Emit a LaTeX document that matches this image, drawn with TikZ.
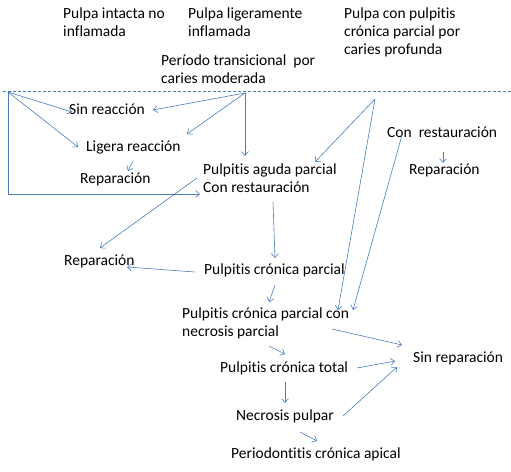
\documentclass[tikz,border=0pt]{standalone}
\usepackage{fontspec}
\setmainfont{Carlito}[Ligatures=NoCommon]
\usetikzlibrary{arrows.meta}
\definecolor{arr}{HTML}{4A7EBB}
\tikzset{
  lbl/.style={anchor=base west,inner sep=0pt,align=left,font=\fontsize{15.5}{18}\selectfont,text=black},
  con/.style={draw=arr,line width=0.6pt,-{Straight Barb[length=4pt,width=7pt,line width=0.6pt]}},
}
\begin{document}
\begin{tikzpicture}[x=1pt,y=-1pt]
\useasboundingbox (0,0) rectangle (511,471);
% labels (base = baseline of last line)
\node[lbl] (pin) at (63,36) {Pulpa intacta no\\inflamada};
\node[lbl] (plig) at (188,36) {Pulpa ligeramente\\inflamada};
\node[lbl] (ptr) at (161,83) {Período transicional\ \ por\\caries moderada};
\node[lbl] (pcp) at (344,54) {Pulpa con pulpitis\\crónica parcial por\\caries profunda};
\node[lbl] (sr) at (69,114) {Sin reacción};
\node[lbl] (lr) at (86,151) {Ligera reacción};
\node[lbl] (rep1) at (80,183) {Reparación};
\node[lbl] (pag) at (203,192) {Pulpitis aguda parcial\\Con restauración};
\node[lbl] (cr) at (387,137) {Con\ \ restauración};
\node[lbl] (rep2) at (409,174) {Reparación};
\node[lbl] (rep3) at (64,265) {Reparación};
\node[lbl] (pcpar) at (204,274) {Pulpitis crónica parcial};
\node[lbl] (pcpn) at (182,336) {Pulpitis crónica parcial con\\necrosis parcial};
\node[lbl] (srep) at (413,362) {Sin reparación};
\node[lbl] (pct) at (220,372) {Pulpitis crónica total};
\node[lbl] (np) at (236,420) {Necrosis pulpar};
\node[lbl] (pca) at (231,458) {Periodontitis crónica apical};
% dashed separator
\coordinate (dl) at (3,91.5);
\coordinate (dr) at (511,91.5);
\draw[arr,line width=0.8pt,dash pattern=on 3pt off 2pt] (dl) -- (dr);
% branch origins
\coordinate (o1) at (8,92);
\coordinate (oP) at (245,93);
\coordinate (oQ) at (375,99);
% connectors
\draw[con] (o1) -- ([shift={(3,-2)}]sr.base west);
\draw[con] (o1) -- ([shift={(-8,-4)}]lr.base west);
\draw[con] (o1) |- ([shift={(-3,2)}]pag.base west);
\draw[con] (oP) -- ([shift={(84,-4)}]sr.base west);
\draw[con] (oP) -- ([shift={(101,-17)}]lr.base west);
\draw[con] (oP) -- ([shift={(42,-36)}]pag.base west);
\draw[con] ([shift={(47,10)}]lr.base west) -- ([shift={(48,-12)}]rep1.base west);
\draw[con] ([shift={(-6,-14)}]pag.base west) -- ([shift={(36,-17)}]rep3.base west);
\draw[con] ([shift={(-9,-2)}]pcpar.base west) -- ([shift={(63,2)}]rep3.base west);
\draw[con] (oQ) -- ([shift={(112,-30)}]pag.base west);
\draw[con] (oQ) -- ([shift={(156,-26)}]pcpn.base west);
\draw[con] ([shift={(15,-2)}]cr.base west) -- ([shift={(171,-26)}]pcpn.base west);
\draw[con] ([shift={(56,15)}]cr.base west) -- ([shift={(34,-11)}]rep2.base west);
\draw[con] ([shift={(70,10)}]pag.base west) -- ([shift={(71,-16)}]pcpar.base west);
\draw[con] ([shift={(71,11)}]pcpar.base west) -- ([shift={(87,-34)}]pcpn.base west);
\draw[con] ([shift={(150,-7)}]pcpn.base west) -- ([shift={(-11,-17)}]srep.base west);
\draw[con] ([shift={(87,10)}]pcpn.base west) -- ([shift={(65,-18)}]pct.base west);
\draw[con] ([shift={(137,-4)}]pct.base west) -- ([shift={(-18,-1)}]srep.base west);
\draw[con] ([shift={(65,10)}]pct.base west) -- ([shift={(49,-17)}]np.base west);
\draw[con] ([shift={(107,-4)}]np.base west) -- ([shift={(-16,5)}]srep.base west);
\draw[con] ([shift={(64,12)}]np.base west) -- ([shift={(86,-17)}]pca.base west);
\end{tikzpicture}
\end{document}
